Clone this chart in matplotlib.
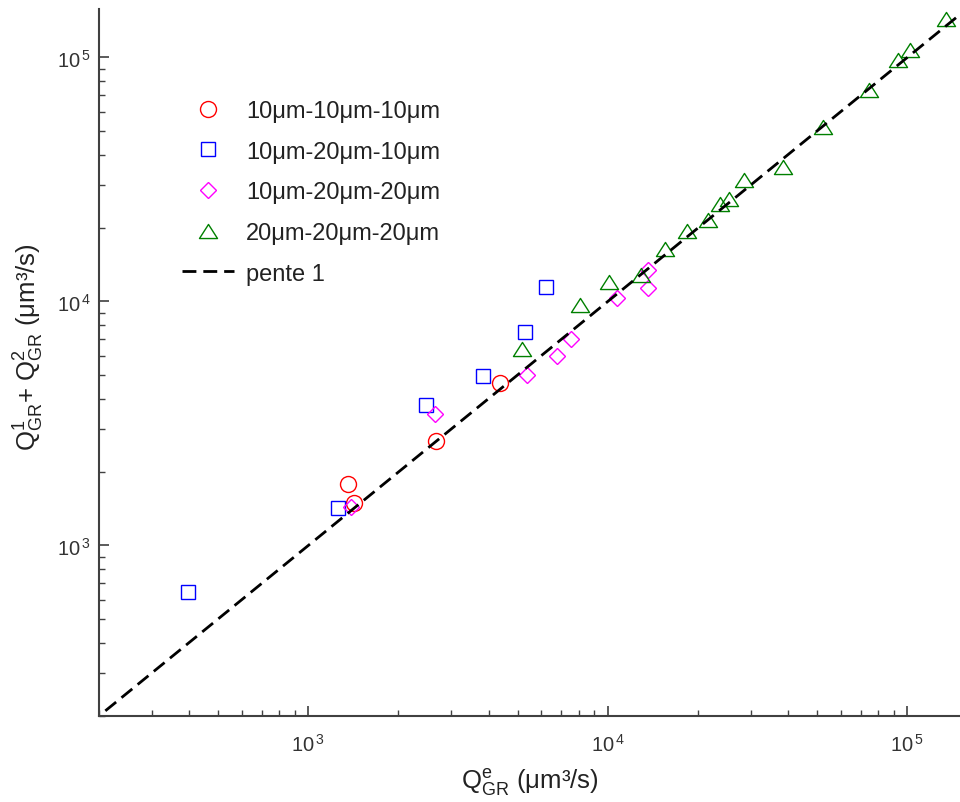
import numpy as np
import matplotlib
matplotlib.use("Agg")
import matplotlib.pyplot as plt
from matplotlib.path import Path
from matplotlib.ticker import FuncFormatter, LogLocator

plt.rcParams['font.family'] = ['Liberation Sans', 'DejaVu Sans']
plt.rcParams['mathtext.fontset'] = 'custom'
plt.rcParams['mathtext.rm'] = 'Liberation Sans'
plt.rcParams['mathtext.it'] = 'Liberation Sans'
plt.rcParams['mathtext.bf'] = 'Liberation Sans:bold'

# ---- data ----
labels = ['10μm-10μm-10μm', '10μm-20μm-10μm', '10μm-20μm-20μm', '20μm-20μm-20μm']

x_10_10_10 = [1357, 1420, 2673, 4355]
y_10_10_10 = [1778, 1496, 2676, 4645]

x_10_20_10 = [397, 1257, 2477, 3837, 5291, 6218]
y_10_20_10 = [644, 1422, 3760, 4935, 7515, 11450]

x_10_20_20 = [1392, 2655, 5358, 6745, 7553, 10731, 13617, 13617]
y_10_20_20 = [1441, 3444, 4990, 5986, 7047, 10288, 11380, 13430]

x_20_20_20 = [5170, 8090, 10062, 12941, 15560, 18380, 21600, 23750, 25320,
              28410, 38460, 52300, 74650, 93100, 101900, 135200]
y_20_20_20 = [6398, 9630, 11995, 12850, 16440, 19360, 21470, 25140, 26360,
              31330, 35510, 52120, 73300, 97300, 107200, 144100]

slope_x = [210, 150000]
slope_label = 'pente 1'

# ---- figure ----
fig = plt.figure(figsize=(9.6, 8.03), dpi=100)
ax = fig.add_axes([99/960, 1 - 717/803, (960 - 99)/960, (717 - 10)/803])

tri = Path([(0, 0.78), (-1, -0.78), (1, -0.78), (0, 0.78)], closed=True)

mk = dict(linestyle='none', markerfacecolor='none', markeredgewidth=1.0)
h1, = ax.plot(x_10_10_10, y_10_10_10, marker='o', markersize=11.5, markeredgecolor='#ff0000', **mk)
h2, = ax.plot(x_10_20_10, y_10_20_10, marker='s', markersize=9.5, markeredgecolor='#0000ff', **mk)
h3, = ax.plot(x_10_20_20, y_10_20_20, marker='D', markersize=8.5, markeredgecolor='#ff00ff', **mk)
h4, = ax.plot(x_20_20_20, y_20_20_20, marker=tri, markersize=13, markeredgecolor='#008000', **mk)
h5, = ax.plot(slope_x, slope_x, color='black', linewidth=2.0, dashes=(5, 2.5))

ax.set_xscale('log')
ax.set_yscale('log')
ax.set_xlim(200, 1.5e5)
ax.set_ylim(200, 1.58e5)

for s in ['top', 'right']:
    ax.spines[s].set_visible(False)
for s in ['left', 'bottom']:
    ax.spines[s].set_color('#404040')
    ax.spines[s].set_linewidth(1.5)

fmt = FuncFormatter(lambda v, p: r'$\mathregular{10}^{\,%d}$' % int(round(np.log10(v))))
ax.xaxis.set_major_formatter(fmt)
ax.yaxis.set_major_formatter(fmt)
ax.xaxis.set_major_locator(LogLocator(base=10, numticks=10))
ax.yaxis.set_major_locator(LogLocator(base=10, numticks=10))
ax.tick_params(which='both', direction='in', color='#404040', labelcolor='#333333')
ax.tick_params(which='major', length=7, width=1.2, labelsize=14.5)
ax.tick_params(which='minor', length=4, width=1.0)
ax.tick_params(axis='x', which='major', pad=12)
ax.tick_params(axis='y', which='major', pad=6)

ax.set_xlabel(r'$\mathrm{Q}^{\mathrm{e}}_{\mathrm{GR}}$ (μm³/s)', fontsize=18.5, color='#222222', labelpad=8)
ax.set_ylabel(r'$\mathrm{Q}^{\mathrm{1}}_{\mathrm{GR}}$+ $\mathrm{Q}^{\mathrm{2}}_{\mathrm{GR}}$ (μm³/s)',
              fontsize=18.5, color='#222222', labelpad=8)
ax.yaxis.label.set_y(0.523)

leg = ax.legend([h1, h2, h3, h4, h5], labels + [slope_label], frameon=False,
                loc='upper left', bbox_to_anchor=((182 - 99)/861, (717 - 101)/707),
                fontsize=17, handlelength=2.2, handletextpad=0.5,
                labelspacing=0.79, borderpad=0, borderaxespad=0)
for t in leg.get_texts():
    t.set_color('#222222')

fig.savefig('out.png', dpi=100)
